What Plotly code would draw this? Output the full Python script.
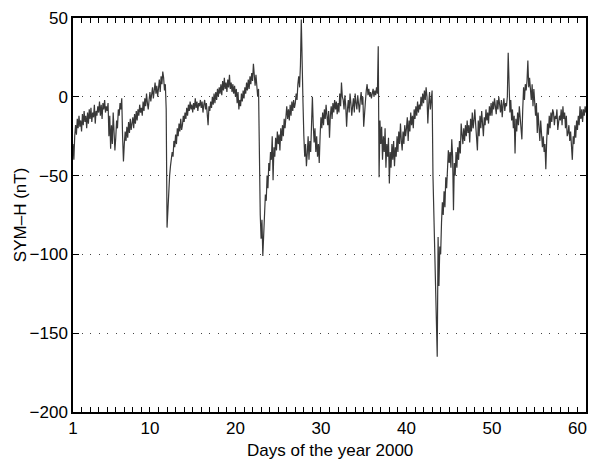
import plotly.graph_objects as go

start_day = 1.0
step_days = 0.1

# SYM-H (nT), read at 0.1-day cadence from day 1.0 to day 61.0
symh = [
    -30, -40, -25, -18, -24, -14, -20, -12, -19, -15,      # day 1
    -22, -11, -18, -9, -16, -12, -20, -10, -17, -8,        # day 2
    -14, -7, -16, -10, -13, -5, -17, -9, -12, -6,          # day 3
    -10, -3, -12, -5, -14, -4, -8, -2, -10, -6,            # day 4
    -9, -4, -25, -12, -33, -18, -30, -10, -22, -34,        # day 5
    -26, -15, -20, -8, -12, -4, -8, -1, -25, -41,          # day 6
    -30, -22, -28, -19, -26, -16, -23, -14, -21, -17,      # day 7
    -13, -20, -11, -17, -9, -15, -8, -12, -5, -10,         # day 8
    -7, -12, -3, -9, -1, -6, 2, -4, -8, -2,                # day 9
    3, -3, 1, 6, -1, 4, 9, 2, 7, 0,                        # day 10
    5, 11, 3, 13, 8, 16, 12, 4, 8, -8,                     # day 11
    -83, -70, -58, -50, -44, -40, -35, -38, -28, -32,      # day 12
    -24, -30, -20, -25, -17, -22, -14, -21, -18, -12,      # day 13
    -16, -10, -14, -7, -12, -5, -9, -3, -8, -5,            # day 14
    -10, -4, -8, -1, -7, -3, -9, -4, -6, -2,               # day 15
    -7, -3, -10, -5, -2, -8, -4, -11, -18, -6,             # day 16
    -9, -3, -7, 0, -5, 2, -4, 3, -2, 5,                    # day 17
    0, 6, 2, 8, 1, 10, 4, 12, 5, 9,                        # day 18
    3, 11, 6, 14, 5, 9, 3, 8, 2, 7,                        # day 19
    0, 5, -4, 3, -8, -2, -6, 2, -3, 4,                     # day 20
    -1, 6, 2, 9, 4, 11, 5, 13, 8, 15,                      # day 21
    10, 21, 12, 7, 14, 3, 0, 5, -51, -75,                  # day 22
    -90, -78, -101, -88, -70, -62, -66, -50, -58, -42,     # day 23
    -47, -35, -40, -25, -53, -32, -38, -26, -34, -22,      # day 24
    -30, -24, -34, -20, -28, -18, -25, -14, -20, -10,      # day 25
    -6, -14, -8, -15, -5, -12, -3, -9, -2, -7,             # day 26
    -4, 2, -2, 8, 13, 6, 20, 49, 10, -4,                   # day 27
    -25, -38, -30, -44, -36, -25, -40, -28, -35, -20,      # day 28
    0, -18, -29, -20, -35, -25, -38, -30, -42, -25,        # day 29
    -13, -20, -10, -18, -8, -14, -5, -12, -18, -9,         # day 30
    -26, -12, -6, -14, -4, -10, -2, -8, -3, -11,           # day 31
    -4, -10, 2, -6, 9, 0, -2, -8, 1, -6,                   # day 32
    -19, -8, -2, -10, 2, -4, -12, -6, -1, -10,             # day 33
    2, -4, -8, 1, -6, -10, -2, 3, -5, 0,                   # day 34
    -19, -8, -3, 4, 8, 1, 5, 0, 3, -1,                     # day 35
    2, 5, 0, 4, 1, 6, 2, 32, -51, -15,                     # day 36
    -30, -19, -40, -25, -35, -20, -45, -30, -38, -26,      # day 37
    -55, -35, -45, -30, -40, -28, -44, -32, -38, -25,      # day 38
    -35, -22, -30, -17, -28, -34, -22, -30, -18, -25,      # day 39
    -20, -13, -28, -15, -22, -10, -18, -12, -20, -8,       # day 40
    -14, -6, -12, -3, -10, -5, -8, 0, -6, 2,               # day 41
    -4, 4, -2, 6, 0, -17, -5, 3, -8, 1,                    # day 42
    4, -50, -70, -95, -110, -130, -165, -89, -120, -95,    # day 43
    -100, -80, -67, -75, -60, -70, -51, -58, -45, -34,     # day 44
    -42, -35, -45, -27, -38, -72, -42, -50, -35, -45,      # day 45
    -32, -40, -28, -36, -17, -25, -30, -20, -28, -18,      # day 46
    -25, -15, -23, -18, -29, -14, -22, -10, -20, -15,      # day 47
    -8, -18, -28, -34, -15, -25, -12, -20, -9, -16,        # day 48
    -25, -13, -18, -8, -15, -10, -17, -6, -12, -4,         # day 49
    -12, -3, -8, -1, -6, -11, -2, -8, 0, -5,               # day 50
    -10, -2, -13, -5, -1, -9, -4, -6, 0, 28,               # day 51
    0, -10, -2, -15, -8, -20, -12, -36, -14, -22,          # day 52
    -10, -18, -6, -14, -20, -27, -8, 6, -2, 8,             # day 53
    4, 10, 23, 6, 12, 4, -2, 8, -6, 5,                     # day 54
    -6, -12, -4, -23, -10, -18, -28, -15, -24, -32,        # day 55
    -25, -35, -30, -46, -28, -17, -24, -12, -20, -10,      # day 56
    -16, -8, -10, -18, -12, -14, -8, -21, -16, -12,        # day 57
    -15, -8, -18, -6, -14, -10, -20, -12, -25, -23,        # day 58
    -18, -28, -22, -34, -40, -25, -30, -18, -26, -15,      # day 59
    -21, -12, -18, -6, -14, -8, -16, -8, -12, -6,          # day 60
    -10,                                                   # day 61
]
days = [start_day + step_days * i for i in range(len(symh))]

x_tick_vals = [1, 10, 20, 30, 40, 50, 60]
y_tick_vals = [50, 0, -50, -100, -150, -200]
x_title = "Days of the year 2000"
y_title = "SYM–H (nT)"

font = dict(family="Liberation Sans, Arial, sans-serif", size=17, color="black")

fig = go.Figure()
fig.add_trace(go.Scatter(
    x=days, y=symh, mode="lines",
    line=dict(color="#383838", width=1.2),
    showlegend=False, hoverinfo="x+y",
))
# same series on the mirrored top axis (fully transparent) so the top day ticks draw
fig.add_trace(go.Scatter(
    x=days, y=symh, mode="lines", xaxis="x2",
    line=dict(color="rgba(0,0,0,0)", width=0),
    showlegend=False, hoverinfo="skip",
))

fig.update_layout(
    width=592, height=466,
    margin=dict(l=73, r=6, t=18, b=54),
    paper_bgcolor="white", plot_bgcolor="white",
    font=font,
    xaxis=dict(
        range=[1, 61], tickvals=x_tick_vals, ticks="inside", ticklen=5,
        tickcolor="black", showline=True, linecolor="black", linewidth=1.5,
        showgrid=False, zeroline=False, automargin=False,
        minor=dict(tickmode="linear", tick0=1, dtick=1, ticks="inside",
                   ticklen=5, tickcolor="black", showgrid=False),
        tickfont=font,
    ),
    xaxis2=dict(
        overlaying="x", side="top", anchor="y", matches="x",
        range=[1, 61], tickvals=x_tick_vals, ticks="inside", ticklen=5,
        tickcolor="black", showline=True, linecolor="black", linewidth=1.5,
        showticklabels=False, showgrid=False, zeroline=False, automargin=False,
        minor=dict(tickmode="linear", tick0=1, dtick=1, ticks="inside",
                   ticklen=5, tickcolor="black", showgrid=False),
    ),
    yaxis=dict(
        range=[-200, 50], tickvals=y_tick_vals, ticks="inside", ticklen=6,
        tickcolor="black", showline=True, linecolor="black", linewidth=1.5,
        mirror="ticks", showgrid=True, gridcolor="#444444",
        griddash="1px,7.5px", gridwidth=1, zeroline=False, automargin=False,
        tickfont=font,
    ),
    annotations=[
        dict(text=x_title, xref="paper", yref="paper", x=0.5, y=-0.097,
             xanchor="center", yanchor="middle", showarrow=False, font=font),
        dict(text=y_title, xref="paper", yref="paper", x=-0.103, y=0.5,
             xanchor="center", yanchor="middle", textangle=-90,
             showarrow=False, font=font),
    ],
)

fig.write_html(
    "out.html",
    config={"displayModeBar": False},
    post_script="document.body.style.margin='0px';document.body.style.padding='0px';",
)
